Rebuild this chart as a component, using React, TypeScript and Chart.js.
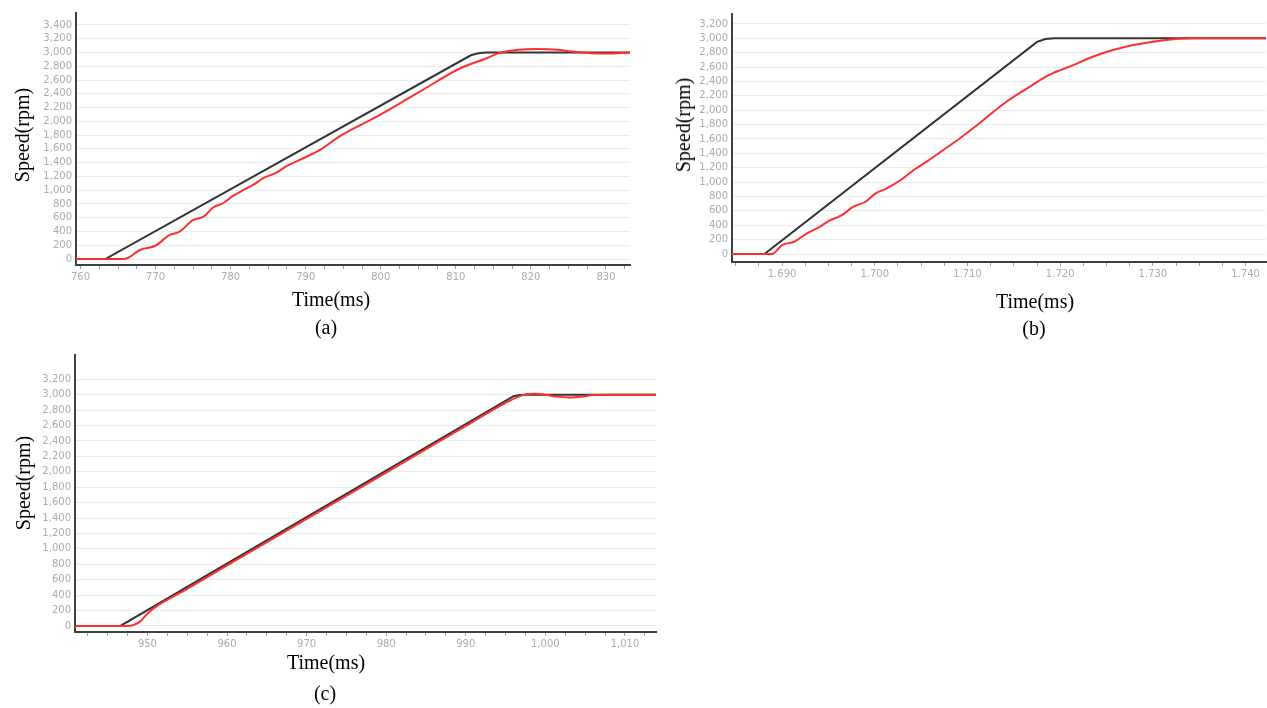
import React, { useEffect, useRef } from "react";
import { Chart, registerables } from "chart.js";

Chart.register(...registerables);

// ---------- Panel (a) ----------
const A_REF_T = [759.4, 763.3, 812.0, 813.0, 814.0, 833.2];
const A_REF_V = [0, 0, 2960, 2990, 3000, 3000];
const A_ACT_T = [759.4, 765.8, 766.6, 767.9, 769.9, 771.9, 773.2, 775, 776.4, 777.7, 779, 780.3, 781.7, 783, 784.3, 786.1, 787.5, 789.2, 791.9, 794.6, 799.9, 805.2, 810.6, 814.1, 815.8, 818, 821, 823.5, 825.5, 828, 830, 833.2];
const A_ACT_V = [0, 0, 33, 131, 189, 349, 397, 567, 615, 751, 810, 916, 1003, 1076, 1173, 1254, 1352, 1439, 1584, 1788, 2093, 2432, 2771, 2917, 2995, 3035, 3050, 3040, 3013, 2990, 2985, 3000];
const A_Y_TICKS = [0, 200, 400, 600, 800, 1000, 1200, 1400, 1600, 1800, 2000, 2200, 2400, 2600, 2800, 3000, 3200, 3400];

// ---------- Panel (b) ----------
const B_REF_T = [1684.6, 1688.1, 1717.5, 1718.4, 1719.4, 1742.2];
const B_REF_V = [0, 0, 2950, 2990, 3000, 3000];
const B_ACT_T = [1684.6, 1688.9, 1690, 1691.3, 1692.7, 1694.1, 1695, 1696.3, 1697.7, 1699, 1700.1, 1701.3, 1702.8, 1704.2, 1705.6, 1707.1, 1709.2, 1710.6, 1714.2, 1717, 1718.8, 1721.4, 1723.5, 1725.7, 1727.9, 1730, 1732.2, 1734.3, 1742.2];
const B_ACT_V = [0, 0, 125, 171, 288, 380, 459, 529, 658, 727, 844, 914, 1029, 1168, 1284, 1420, 1610, 1748, 2118, 2350, 2490, 2628, 2744, 2837, 2906, 2952, 2986, 3000, 3000];
const B_Y_TICKS = [0, 200, 400, 600, 800, 1000, 1200, 1400, 1600, 1800, 2000, 2200, 2400, 2600, 2800, 3000, 3200];

// ---------- Panel (c) ----------
const C_REF_T = [940.9, 946.6, 996.0, 996.8, 997.6, 1013.9];
const C_REF_V = [0, 0, 2980, 2997, 3000, 3000];
const C_ACT_T = [940.9, 947.4, 948.3, 949.1, 950, 951, 955, 960, 970, 980, 990, 995, 996.9, 997.6, 998.6, 1000, 1001.5, 1003, 1004.5, 1006, 1008, 1013.9];
const C_ACT_V = [0, 0, 15, 60, 160, 245, 480, 785, 1388, 1990, 2595, 2895, 2985, 3005, 3012, 3000, 2975, 2965, 2975, 2995, 3000, 3000];
const C_Y_TICKS = [0, 200, 400, 600, 800, 1000, 1200, 1400, 1600, 1800, 2000, 2200, 2400, 2600, 2800, 3000, 3200];

// axis ranges
const A_X_RANGE = [759.4, 833.2];
const A_Y_RANGE = [-87, 3574];
const B_X_RANGE = [1684.6, 1742.2];
const B_Y_RANGE = [-111, 3338];
const C_X_RANGE = [940.9, 1013.9];
const C_Y_RANGE = [-78, 3515];

const X_MINOR_STEP = 2.5;
const X_MAJOR_STEP = 10;

const Y_TITLE = "Speed(rpm)";
const X_TITLE = "Time(ms)";
const CAPTIONS = ["(a)", "(b)", "(c)"];

const RED = "#ff2f2f";
const BLACK = "#333333";
const AXIS = "#404040";
const TICK = "#ababab";
const GRID = "#ebebeb";

const fmtComma = (v: number) => Math.round(v).toLocaleString("en-US");
const fmtDot = (v: number) => Math.round(v).toLocaleString("en-US").replace(/,/g, ".");

type PanelProps = {
  left: number;
  top: number;
  width: number;
  height: number;
  padTop: number;
  padRight: number;
  yWidth: number;
  xHeight: number;
  xRange: number[];
  yRange: number[];
  yTicks: number[];
  refT: number[];
  refV: number[];
  actT: number[];
  actV: number[];
  fmtX: (v: number) => string;
};

function Panel(p: PanelProps) {
  const ref = useRef<HTMLCanvasElement>(null);
  useEffect(() => {
    const chart = new Chart(ref.current as HTMLCanvasElement, {
      type: "line",
      data: {
        datasets: [
          {
            label: "actual",
            data: p.actT.map((t, i) => ({ x: t, y: p.actV[i] })),
            borderColor: RED,
            borderWidth: 2,
            pointRadius: 0,
            cubicInterpolationMode: "monotone",
            order: 0,
          },
          {
            label: "reference",
            data: p.refT.map((t, i) => ({ x: t, y: p.refV[i] })),
            borderColor: BLACK,
            borderWidth: 2,
            pointRadius: 0,
            tension: 0,
            order: 1,
          },
        ],
      },
      options: {
        responsive: false,
        maintainAspectRatio: false,
        animation: false,
        devicePixelRatio: 1,
        layout: { padding: { top: p.padTop, right: p.padRight, left: 0, bottom: 0 } },
        plugins: { legend: { display: false }, tooltip: { enabled: false } },
        scales: {
          x: {
            type: "linear",
            min: p.xRange[0],
            max: p.xRange[1],
            afterFit: (s: any) => {
              s.height = p.xHeight;
            },
            border: { display: true, color: AXIS, width: 2 },
            grid: { drawOnChartArea: false, drawTicks: true, tickLength: 4, color: "#a0a0a0" },
            ticks: {
              stepSize: X_MINOR_STEP,
              autoSkip: false,
              maxRotation: 0,
              includeBounds: false,
              padding: 2,
              color: TICK,
              font: { family: "DejaVu Sans", size: 10 },
              callback: (v: any) => {
                const n = Number(v);
                const q = n / X_MAJOR_STEP;
                return Math.abs(q - Math.round(q)) < 1e-6 ? p.fmtX(n) : "";
              },
            },
          },
          y: {
            type: "linear",
            min: p.yRange[0],
            max: p.yRange[1],
            afterFit: (s: any) => {
              s.width = p.yWidth;
            },
            afterBuildTicks: (s: any) => {
              s.ticks = p.yTicks.map((v) => ({ value: v }));
            },
            border: { display: true, color: AXIS, width: 2 },
            grid: { color: GRID, drawTicks: false, lineWidth: 1 },
            ticks: {
              autoSkip: false,
              padding: 4,
              color: TICK,
              font: { family: "DejaVu Sans", size: 10 },
              callback: (v: any) => fmtComma(Number(v)),
            },
          },
        },
      },
    } as any);
    return () => chart.destroy();
  }, []);
  return (
    <canvas
      ref={ref}
      width={p.width}
      height={p.height}
      style={{ position: "absolute", left: p.left, top: p.top, width: p.width, height: p.height }}
    />
  );
}

function Label({ text, cx, cy, rotate }: { text: string; cx: number; cy: number; rotate?: boolean }) {
  return (
    <div
      style={{
        position: "absolute",
        left: cx,
        top: cy,
        transform: `translate(-50%, -50%)${rotate ? " rotate(-90deg)" : ""}`,
        fontFamily: "'Liberation Serif', 'Times New Roman', serif",
        fontSize: 20,
        lineHeight: 1,
        color: "#000",
        whiteSpace: "nowrap",
      }}
    >
      {text}
    </div>
  );
}

export default function App() {
  return (
    <div style={{ position: "absolute", left: 0, top: 0, width: 1267, height: 708, background: "#fff", overflow: "hidden" }}>
      <Panel
        left={0}
        top={0}
        width={640}
        height={295}
        padTop={13}
        padRight={10}
        yWidth={76}
        xHeight={30}
        xRange={A_X_RANGE}
        yRange={A_Y_RANGE}
        yTicks={A_Y_TICKS}
        refT={A_REF_T}
        refV={A_REF_V}
        actT={A_ACT_T}
        actV={A_ACT_V}
        fmtX={fmtComma}
      />
      <Panel
        left={640}
        top={0}
        width={627}
        height={295}
        padTop={14}
        padRight={1}
        yWidth={92}
        xHeight={33}
        xRange={B_X_RANGE}
        yRange={B_Y_RANGE}
        yTicks={B_Y_TICKS}
        refT={B_REF_T}
        refV={B_REF_V}
        actT={B_ACT_T}
        actV={B_ACT_V}
        fmtX={fmtDot}
      />
      <Panel
        left={0}
        top={340}
        width={670}
        height={320}
        padTop={15}
        padRight={14}
        yWidth={75}
        xHeight={28}
        xRange={C_X_RANGE}
        yRange={C_Y_RANGE}
        yTicks={C_Y_TICKS}
        refT={C_REF_T}
        refV={C_REF_V}
        actT={C_ACT_T}
        actV={C_ACT_V}
        fmtX={fmtComma}
      />
      <Label text={Y_TITLE} cx={22} cy={135} rotate />
      <Label text={X_TITLE} cx={331} cy={299} />
      <Label text={CAPTIONS[0]} cx={326} cy={327} />
      <Label text={Y_TITLE} cx={683} cy={125} rotate />
      <Label text={X_TITLE} cx={1035} cy={301} />
      <Label text={CAPTIONS[1]} cx={1034} cy={328} />
      <Label text={Y_TITLE} cx={23} cy={483} rotate />
      <Label text={X_TITLE} cx={326} cy={662} />
      <Label text={CAPTIONS[2]} cx={325} cy={693} />
    </div>
  );
}
